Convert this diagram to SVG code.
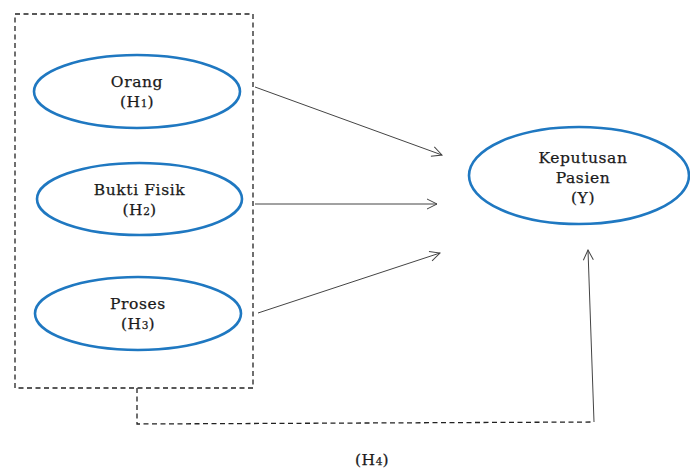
<svg xmlns="http://www.w3.org/2000/svg" width="690" height="469" viewBox="0 0 690 469">
<style>
.node ellipse{fill:#fff;stroke:#1f78c1;stroke-width:2.6}
text{font-family:"DejaVu Serif","Liberation Serif",serif;font-size:15.5px;letter-spacing:0.6px;fill:#1a1a1a;stroke:#1a1a1a;stroke-width:0.25;text-anchor:middle}
.sub{font-size:10.5px;letter-spacing:0}
.conn{fill:none;stroke:#444;stroke-width:1}
.dash{fill:none;stroke:#222;stroke-width:1.3;stroke-dasharray:5,3.5}
</style>
<defs>
<marker id="arr" viewBox="0 0 12 12" refX="11" refY="6" markerWidth="12" markerHeight="12" markerUnits="userSpaceOnUse" orient="auto">
<path d="M1,1 L11,6 L1,11" fill="none" stroke="#444" stroke-width="1"/>
</marker>
</defs>
<rect class="dash" x="15" y="14" width="238" height="374"/>
<g id="orang" class="node">
<ellipse cx="137" cy="91.5" rx="103" ry="36.5"/>
<text x="137" y="87">Orang</text>
<text x="137" y="107">(H<tspan class="sub">1</tspan>)</text>
</g>
<g id="bukti" class="node">
<ellipse cx="139.5" cy="199" rx="102.5" ry="36"/>
<text x="139.5" y="195">Bukti Fisik</text>
<text x="139.5" y="215">(H<tspan class="sub">2</tspan>)</text>
</g>
<g id="proses" class="node">
<ellipse cx="138" cy="313.5" rx="103" ry="36.5"/>
<text x="138" y="309">Proses</text>
<text x="138" y="329">(H<tspan class="sub">3</tspan>)</text>
</g>
<g id="keputusan" class="node">
<ellipse cx="579" cy="175.5" rx="110" ry="48.5"/>
<text x="583" y="163">Keputusan</text>
<text x="583" y="183">Pasien</text>
<text x="583" y="203">(Y)</text>
</g>
<g id="connectors">
<line class="conn" x1="255" y1="87" x2="442" y2="155" marker-end="url(#arr)"/>
<line class="conn" x1="255" y1="204" x2="437" y2="204" marker-end="url(#arr)"/>
<line class="conn" x1="258" y1="313" x2="440" y2="253" marker-end="url(#arr)"/>
<polyline class="dash" points="137,388 137,424 594,422"/>
<line class="conn" x1="594" y1="422" x2="588" y2="250" marker-end="url(#arr)"/>
</g>
<text x="372" y="465">(H<tspan class="sub" font-size="12">4</tspan>)</text>
</svg>
